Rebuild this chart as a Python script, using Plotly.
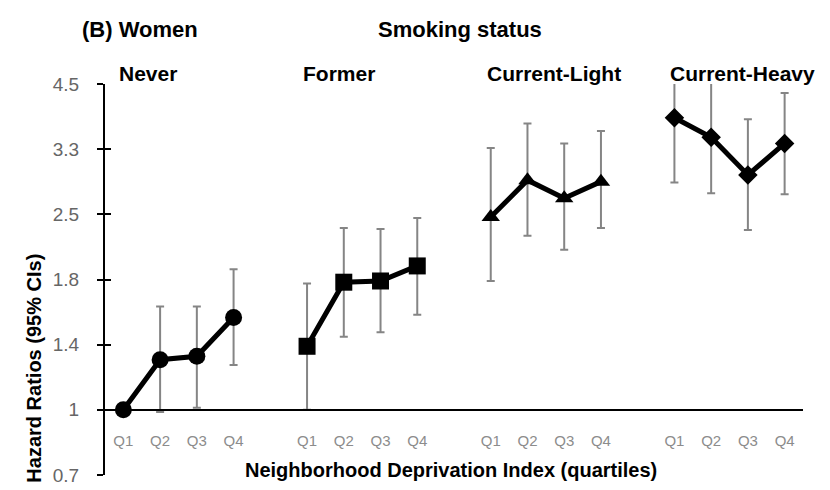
import math
import plotly.graph_objects as go

# ---------------- data ----------------
groups = ["Never", "Former", "Current-Light", "Current-Heavy"]
quartiles = ["Q1", "Q2", "Q3", "Q4"]

never_hr = [1.00, 1.26, 1.28, 1.53]
never_lo = [None, 0.99, 1.01, 1.23]
never_hi = [None, 1.61, 1.61, 1.91]

former_hr = [1.34, 1.80, 1.81, 1.94]
former_lo = [1.00, 1.40, 1.43, 1.55]
former_hi = [1.79, 2.31, 2.30, 2.42]

light_hr = [2.43, 2.88, 2.65, 2.86]
light_lo = [1.81, 2.23, 2.09, 2.31]
light_hi = [3.34, 3.74, 3.41, 3.61]

heavy_hr = [3.84, 3.51, 2.95, 3.41]
heavy_lo = [2.85, 2.71, 2.29, 2.70]
heavy_hi = [4.70, 4.52, 3.81, 4.30]

y_tick_labels = ["0.7", "1", "1.4", "1.8", "2.5", "3.3", "4.5"]
log_base = 1.35  # axis uses a log scale with base 1.35

series = [
    (never_hr, never_lo, never_hi, "circle", 17),
    (former_hr, former_lo, former_hi, "square", 17),
    (light_hr, light_lo, light_hi, "triangle-up", 16),
    (heavy_hr, heavy_lo, heavy_hi, "diamond", 15),
]

# ---------------- layout geometry ----------------
W, H = 830, 490
ML, MR, MT, MB = 97, 35, 76, 17
PW, PH = W - ML - MR, H - MT - MB


def px_x(px):
    return (px - ML) / PW


def px_y(py):
    return (H - MB - py) / PH


fig = go.Figure()

for g, (hr, lo, hi, sym, size) in enumerate(series):
    xs = [g * 5 + q + 1 for q in range(len(quartiles))]
    up = [(h - v) if h is not None else 0 for v, h in zip(hr, hi)]
    dn = [(v - l) if l is not None else 0 for v, l in zip(hr, lo)]
    fig.add_trace(go.Scatter(
        x=xs, y=hr, mode="lines+markers", name=groups[g],
        line=dict(color="black", width=5),
        marker=dict(symbol=sym, size=size, color="black"),
        error_y=dict(type="data", symmetric=False, array=up, arrayminus=dn,
                     color="#858585", thickness=2, width=4),
        showlegend=False,
    ))

# dummy trace so the overlay axis (inner half of cross ticks) is drawn
fig.add_trace(go.Scatter(x=[None], y=[None], yaxis="y2", showlegend=False, hoverinfo="skip"))

tickvals = [log_base ** k for k in range(-1, 6)]
yrange = [math.log10(tickvals[0]), math.log10(tickvals[-1])]
x_pos = [g * 5 + q + 1 for g in range(len(groups)) for q in range(len(quartiles))]
x_txt = [q for g in groups for q in quartiles]

font_family = "Liberation Sans, Arial, sans-serif"

fig.update_layout(
    width=W, height=H,
    margin=dict(l=ML, r=MR, t=MT, b=MB),
    paper_bgcolor="white", plot_bgcolor="white",
    font=dict(family=font_family, color="black"),
    xaxis=dict(
        range=[0.5, 19.5], anchor="free",
        position=(0 - yrange[0]) / (yrange[1] - yrange[0]),
        showline=True, linecolor="black", linewidth=2,
        tickmode="array", tickvals=x_pos, ticktext=x_txt,
        ticks="", ticklabelstandoff=17,
        tickfont=dict(size=15, color="#8c8c8c", family=font_family),
        showgrid=False, zeroline=False,
    ),
    yaxis=dict(
        type="log", range=yrange,
        tickmode="array", tickvals=tickvals, ticktext=y_tick_labels,
        ticks="outside", ticklen=6, tickwidth=2, tickcolor="black",
        showline=True, linecolor="black", linewidth=2,
        tickfont=dict(size=19, color="#666666", family=font_family),
        ticklabelstandoff=14,
        showgrid=False, zeroline=False,
    ),
    yaxis2=dict(
        type="log", range=yrange, overlaying="y", side="left",
        tickmode="array", tickvals=tickvals,
        ticks="inside", ticklen=6, tickwidth=2, tickcolor="black",
        showticklabels=False, showline=False, showgrid=False, zeroline=False,
    ),
)

annotations = [
    dict(text="<b>(B) Women</b>", xref="paper", yref="paper",
         x=px_x(72), y=px_y(21), xanchor="left", yanchor="middle",
         font=dict(size=22)),
    dict(text="<b>Smoking status</b>", xref="paper", yref="paper",
         x=px_x(452), y=px_y(21), xanchor="center", yanchor="middle",
         font=dict(size=22)),
    dict(text="<b>Hazard Ratios (95% CIs)</b>", xref="paper", yref="paper",
         x=px_x(26), y=px_y(365), xanchor="center", yanchor="middle",
         textangle=-90, font=dict(size=20)),
    dict(text="<b>Neighborhood Deprivation Index (quartiles)</b>", xref="paper", yref="paper",
         x=px_x(443), y=px_y(468), xanchor="center", yanchor="middle",
         font=dict(size=20)),
]
for g, name in enumerate(groups):
    annotations.append(dict(
        text=f"<b>{name}</b>", xref="x", yref="paper",
        x=g * 5 + 1, y=px_y(65), xanchor="left", yanchor="middle",
        xshift=-6, font=dict(size=21), showarrow=False,
    ))
for a in annotations:
    a.setdefault("showarrow", False)
fig.update_layout(annotations=annotations)

fig.write_html("out.html")
